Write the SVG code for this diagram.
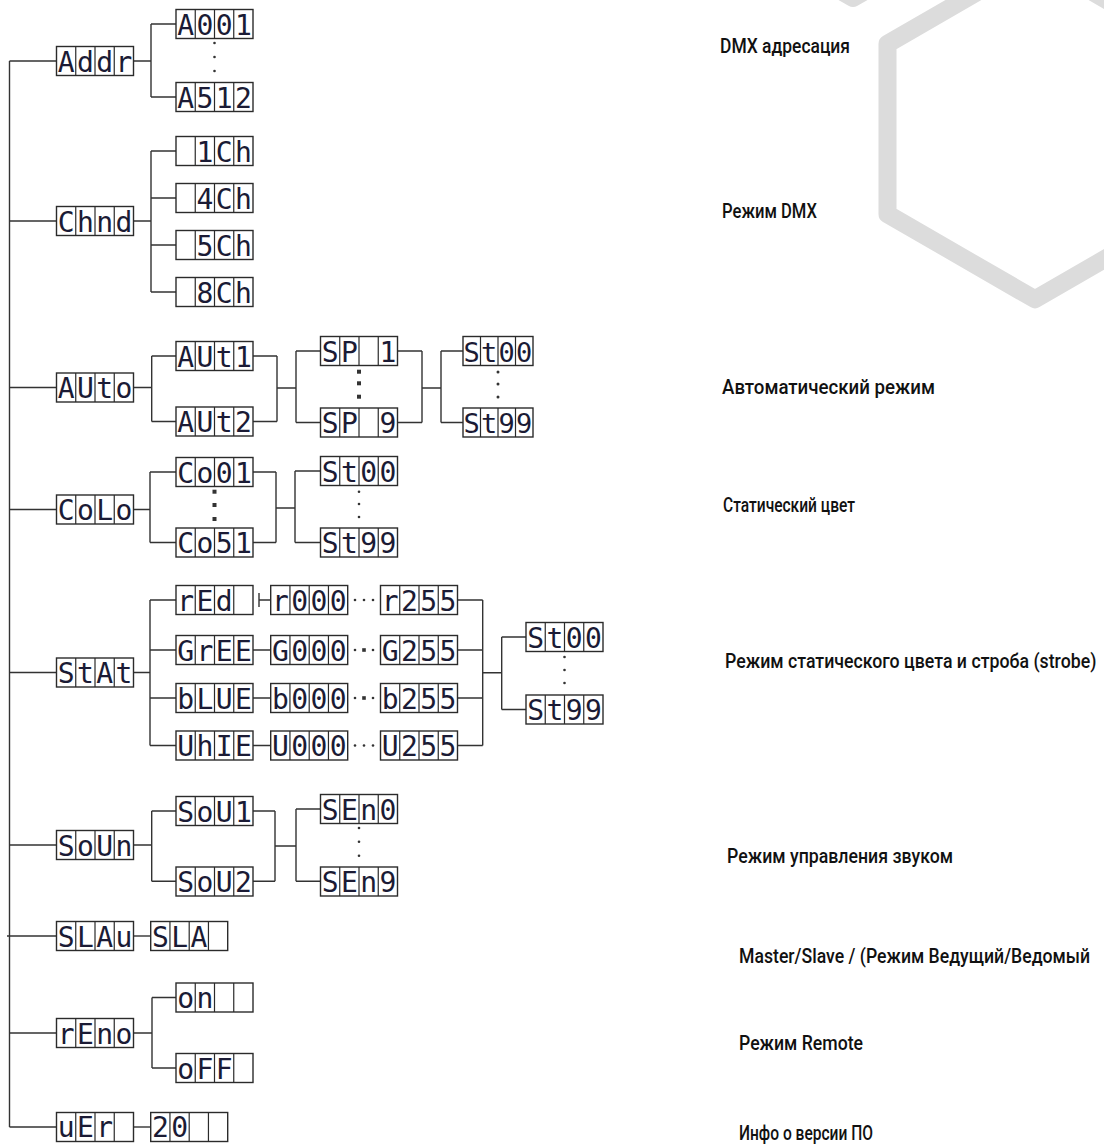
<svg xmlns="http://www.w3.org/2000/svg" xmlns:xlink="http://www.w3.org/1999/xlink" width="1104" height="1144" viewBox="0 0 1104 1144">
<style>
.bx{fill:#fff;stroke:#2b2b2b;stroke-width:1.4}
.dv{fill:none;stroke:#2b2b2b;stroke-width:1.2}
.cn{fill:none;stroke:#333;stroke-width:1.4}
.seg{font-family:'DejaVu Sans Mono','Liberation Mono',monospace;font-size:28px;fill:#1b1b35;letter-spacing:2.39px}
.segn{font-size:27px;letter-spacing:1.24px}
.lbl{font-family:Roboto,'Liberation Sans',Arial,sans-serif;font-weight:500;font-size:19.5px;fill:#111}
.hex{fill:none;stroke:#dcdcdc;stroke-width:18;stroke-linejoin:round}
.dot{fill:#333}
</style>
<defs>
<g id="b4"><rect class="bx" width="77" height="29"/><path class="dv" d="M19.25 0V29M38.5 0V29M57.75 0V29"/></g>
<g id="b4n"><rect class="bx" width="70" height="29"/><path class="dv" d="M17.5 0V29M35 0V29M52.5 0V29"/></g>
</defs>
<rect width="1104" height="1144" fill="#fff"/>
<g id="background">
<polygon class="hex" points="1035,-41.3 1182.5,43.85 1182.5,214.15 1035,299.3 887.5,214.15 887.5,43.85"/>
<polygon class="hex" points="853,-342.6 1000.5,-257.5 1000.5,-87.2 853,-2 705.5,-87.2 705.5,-257.5"/>
</g>
<g id="connectors">
<path class="cn" d="M9.5 61V1127M9.5 61H56.5M9.5 221H56.5M9.5 387.5H56.5M9.5 509.5H56.5M9.5 672.5H56.5M9.5 845H56.5M7 936H56.5M9.5 1033H56.5M9.5 1127H56.5"/>
<path class="cn" d="M133.5 61H151M151 24V97M151 24H176M151 97H176"/>
<path class="cn" d="M133.5 221H151M151 151V292M151 151H176M151 198H176M151 245H176M151 292H176"/>
<path class="cn" d="M133.5 387.5H151.7M151.7 356V421.5M151.7 356H176M151.7 421.5H176M253 356H277M253 421.5H277M277 356V421.5M277 388H296M296 351V422.5M296 351H320.5M296 422.5H320.5M397.5 351H422M397.5 422.5H422M422 351V422.5M422 388H441M441 351V422.5M441 351H463M441 422.5H463"/>
<path class="cn" d="M133.5 509.5H150M150 472V542.5M150 472H176M150 542.5H176M253 472H276M253 542.5H276M276 472V542.5M276 508H295M295 471V542.5M295 471H320.5M295 542.5H320.5"/>
<path class="cn" d="M133.5 672.5H150M150 600V745.5M150 600H176M150 650H176M150 698H176M150 745.5H176M259 593V607M259 600H270.7M253 650H270.7M253 698H270.7M253 745.5H270.7M457.5 600H482.7M457.5 650H482.7M457.5 698H482.7M457.5 745.5H482.7M482.7 600V745.5M482.7 672.7H501.7M501.7 637V709.5M501.7 637H526M501.7 709.5H526"/>
<path class="cn" d="M133.5 845H151.7M151.7 811V881.3M151.7 811H176M151.7 881.3H176M253 811H275M253 881.3H275M275 811V881.3M275 846H296M296 809V881.3M296 809H320.5M296 881.3H320.5"/>
<path class="cn" d="M133.5 936H150.7"/>
<path class="cn" d="M133.5 1033H152M152 997.5V1068M152 997.5H176M152 1068H176"/>
<path class="cn" d="M133.5 1127H150.7"/>
</g>
<g id="dots">
<circle class="dot" cx="214.5" cy="43" r="1.3"/><circle class="dot" cx="214.5" cy="57" r="1.3"/><circle class="dot" cx="214.5" cy="71" r="1.3"/>
<rect class="dot" x="357" y="369.7" width="4" height="4"/><rect class="dot" x="357" y="381.3" width="4" height="4"/><rect class="dot" x="357" y="394.7" width="4" height="4"/>
<circle class="dot" cx="498" cy="372" r="1.5"/><circle class="dot" cx="498" cy="384" r="1.5"/><circle class="dot" cx="498" cy="397" r="1.5"/>
<rect class="dot" x="212.5" y="489.7" width="4" height="4"/><rect class="dot" x="212.5" y="503" width="4" height="4"/><rect class="dot" x="212.5" y="517" width="4" height="4"/>
<circle class="dot" cx="359" cy="491.7" r="1.3"/><circle class="dot" cx="359" cy="504" r="1.3"/><circle class="dot" cx="359" cy="517" r="1.3"/>
<circle class="dot" cx="564.5" cy="657" r="1.3"/><circle class="dot" cx="564.5" cy="670" r="1.3"/><circle class="dot" cx="564.5" cy="683" r="1.3"/>
<circle class="dot" cx="359" cy="828" r="1.3"/><circle class="dot" cx="359" cy="841.7" r="1.3"/><circle class="dot" cx="359" cy="855.7" r="1.3"/>
<circle class="dot" cx="355" cy="600" r="1.3"/><circle class="dot" cx="364" cy="600" r="1.3"/><circle class="dot" cx="373" cy="600" r="1.3"/>
<circle class="dot" cx="355" cy="650" r="1.3"/><rect class="dot" x="362.2" y="648.2" width="3.6" height="3.6"/><circle class="dot" cx="373" cy="650" r="1.3"/>
<circle class="dot" cx="355" cy="698" r="1.3"/><rect class="dot" x="362.2" y="696.2" width="3.6" height="3.6"/><circle class="dot" cx="373" cy="698" r="1.3"/>
<circle class="dot" cx="355" cy="745.5" r="1.3"/><circle class="dot" cx="364" cy="745.5" r="1.3"/><circle class="dot" cx="373" cy="745.5" r="1.3"/>
</g>
<g id="nodes">
<g id="n-addr"><use href="#b4" x="56.5" y="46.5"/><text class="seg" x="57.7" y="71.5">Addr</text></g>
<g id="n-a001"><use href="#b4" x="176" y="9.5"/><text class="seg" x="177.2" y="34.5">A001</text></g>
<g id="n-a512"><use href="#b4" x="176" y="82.5"/><text class="seg" x="177.2" y="107.5">A512</text></g>
<g id="n-chnd"><use href="#b4" x="56.5" y="206.5"/><text class="seg" x="57.7" y="231.5">Chnd</text></g>
<g id="n-1ch"><use href="#b4" x="176" y="136.5"/><text class="seg" x="196.45" y="161.5">1Ch</text></g>
<g id="n-4ch"><use href="#b4" x="176" y="183.5"/><text class="seg" x="196.45" y="208.5">4Ch</text></g>
<g id="n-5ch"><use href="#b4" x="176" y="230.5"/><text class="seg" x="196.45" y="255.5">5Ch</text></g>
<g id="n-8ch"><use href="#b4" x="176" y="277.5"/><text class="seg" x="196.45" y="302.5">8Ch</text></g>
<g id="n-auto"><use href="#b4" x="56.5" y="373"/><text class="seg" x="57.7" y="398">AUto</text></g>
<g id="n-aut1"><use href="#b4" x="176" y="341.5"/><text class="seg" x="177.2" y="366.5">AUt1</text></g>
<g id="n-aut2"><use href="#b4" x="176" y="407"/><text class="seg" x="177.2" y="432">AUt2</text></g>
<g id="n-sp1"><use href="#b4" x="320.5" y="336.5"/><text class="seg" x="321.7" y="361.5">SP 1</text></g>
<g id="n-sp9"><use href="#b4" x="320.5" y="408"/><text class="seg" x="321.7" y="433">SP 9</text></g>
<g id="n-auto-st00"><use href="#b4n" x="463" y="336.5"/><text class="seg segn" x="463.6" y="361.5">St00</text></g>
<g id="n-auto-st99"><use href="#b4n" x="463" y="408"/><text class="seg segn" x="463.6" y="433">St99</text></g>
<g id="n-colo"><use href="#b4" x="56.5" y="495"/><text class="seg" x="57.7" y="520">CoLo</text></g>
<g id="n-co01"><use href="#b4" x="176" y="457.5"/><text class="seg" x="177.2" y="482.5">Co01</text></g>
<g id="n-co51"><use href="#b4" x="176" y="528"/><text class="seg" x="177.2" y="553">Co51</text></g>
<g id="n-colo-st00"><use href="#b4" x="320.5" y="456.5"/><text class="seg" x="321.7" y="481.5">St00</text></g>
<g id="n-colo-st99"><use href="#b4" x="320.5" y="528"/><text class="seg" x="321.7" y="553">St99</text></g>
<g id="n-stat"><use href="#b4" x="56.5" y="658"/><text class="seg" x="57.7" y="683">StAt</text></g>
<g id="n-red"><use href="#b4" x="176" y="585.5"/><text class="seg" x="177.2" y="610.5">rEd</text></g>
<g id="n-gree"><use href="#b4" x="176" y="635.5"/><text class="seg" x="177.2" y="660.5">GrEE</text></g>
<g id="n-blue"><use href="#b4" x="176" y="683.5"/><text class="seg" x="177.2" y="708.5">bLUE</text></g>
<g id="n-uhie"><use href="#b4" x="176" y="731"/><text class="seg" x="177.2" y="756">UhIE</text></g>
<g id="n-r000"><use href="#b4" x="270.7" y="585.5"/><text class="seg" x="271.9" y="610.5">r000</text></g>
<g id="n-g000"><use href="#b4" x="270.7" y="635.5"/><text class="seg" x="271.9" y="660.5">G000</text></g>
<g id="n-b000"><use href="#b4" x="270.7" y="683.5"/><text class="seg" x="271.9" y="708.5">b000</text></g>
<g id="n-u000"><use href="#b4" x="270.7" y="731"/><text class="seg" x="271.9" y="756">U000</text></g>
<g id="n-r255"><use href="#b4" x="380.5" y="585.5"/><text class="seg" x="381.7" y="610.5">r255</text></g>
<g id="n-g255"><use href="#b4" x="380.5" y="635.5"/><text class="seg" x="381.7" y="660.5">G255</text></g>
<g id="n-b255"><use href="#b4" x="380.5" y="683.5"/><text class="seg" x="381.7" y="708.5">b255</text></g>
<g id="n-u255"><use href="#b4" x="380.5" y="731"/><text class="seg" x="381.7" y="756">U255</text></g>
<g id="n-stat-st00"><use href="#b4" x="526" y="622.5"/><text class="seg" x="527.2" y="647.5">St00</text></g>
<g id="n-stat-st99"><use href="#b4" x="526" y="695"/><text class="seg" x="527.2" y="720">St99</text></g>
<g id="n-soun"><use href="#b4" x="56.5" y="830.5"/><text class="seg" x="57.7" y="855.5">SoUn</text></g>
<g id="n-sou1"><use href="#b4" x="176" y="796.5"/><text class="seg" x="177.2" y="821.5">SoU1</text></g>
<g id="n-sou2"><use href="#b4" x="176" y="867"/><text class="seg" x="177.2" y="892">SoU2</text></g>
<g id="n-sen0"><use href="#b4" x="320.5" y="794.5"/><text class="seg" x="321.7" y="819.5">SEn0</text></g>
<g id="n-sen9"><use href="#b4" x="320.5" y="867"/><text class="seg" x="321.7" y="892">SEn9</text></g>
<g id="n-slau"><use href="#b4" x="56.5" y="921.5"/><text class="seg" x="57.7" y="946.5">SLAu</text></g>
<g id="n-sla"><use href="#b4" x="150.7" y="921.5"/><text class="seg" x="151.9" y="946.5">SLA</text></g>
<g id="n-reno"><use href="#b4" x="56.5" y="1018.5"/><text class="seg" x="57.7" y="1043.5">rEno</text></g>
<g id="n-on"><use href="#b4" x="176" y="983"/><text class="seg" x="177.2" y="1008">on</text></g>
<g id="n-off"><use href="#b4" x="176" y="1053.5"/><text class="seg" x="177.2" y="1078.5">oFF</text></g>
<g id="n-ver"><use href="#b4" x="56.5" y="1112.5"/><text class="seg" x="57.7" y="1137">uEr</text></g>
<g id="n-20"><use href="#b4" x="150.7" y="1112.5"/><text class="seg" x="151.9" y="1137">20</text></g>
</g>
<g id="labels">
<text class="lbl" x="720" y="53" textLength="130" lengthAdjust="spacingAndGlyphs">DMX адресация</text>
<text class="lbl" x="722" y="218" textLength="95" lengthAdjust="spacingAndGlyphs">Режим DMX</text>
<text class="lbl" x="722" y="394" textLength="213" lengthAdjust="spacingAndGlyphs">Автоматический режим</text>
<text class="lbl" x="723" y="512" textLength="132" lengthAdjust="spacingAndGlyphs">Статический цвет</text>
<text class="lbl" transform="translate(725 668) scale(0.88 1)" x="0" y="0" textLength="422" lengthAdjust="spacingAndGlyphs">Режим статического цвета и строба (strobe)</text>
<text class="lbl" x="727" y="863" textLength="226" lengthAdjust="spacingAndGlyphs">Режим управления звуком</text>
<text class="lbl" transform="translate(739 963) scale(0.88 1)" x="0" y="0" textLength="399" lengthAdjust="spacingAndGlyphs">Master/Slave / (Режим Ведущий/Ведомый</text>
<text class="lbl" x="739" y="1050" textLength="124" lengthAdjust="spacingAndGlyphs">Режим Remote</text>
<text class="lbl" x="739" y="1140" textLength="134" lengthAdjust="spacingAndGlyphs">Инфо о версии ПО</text>
</g>
</svg>
